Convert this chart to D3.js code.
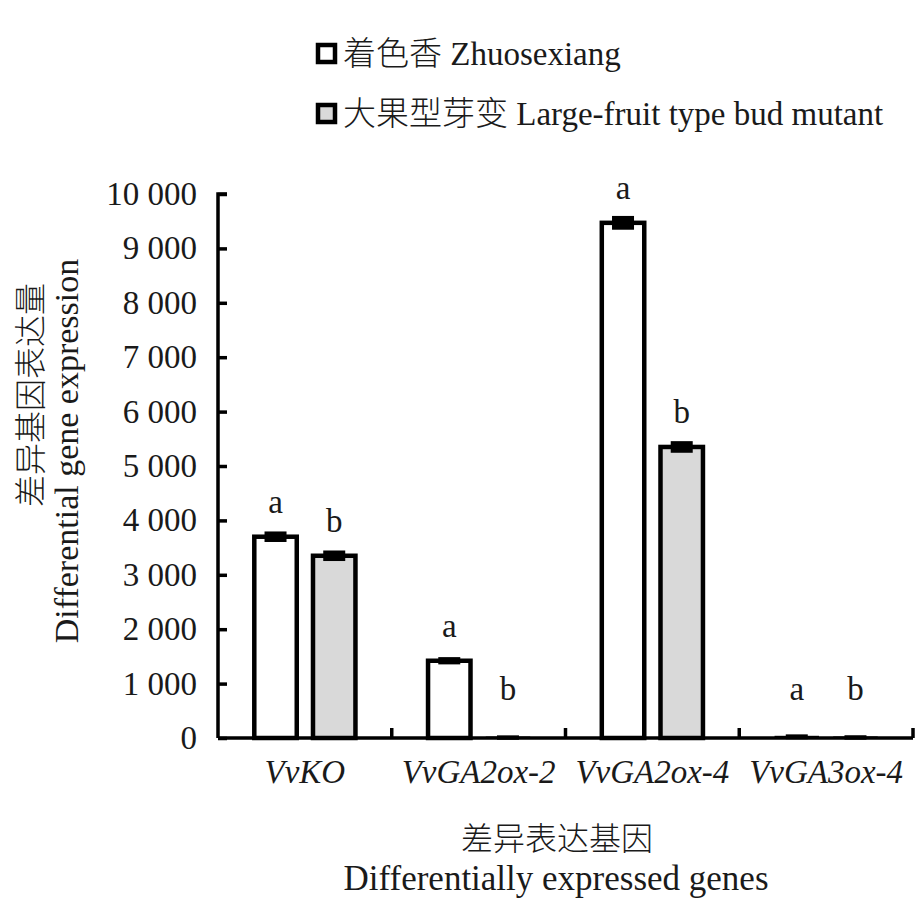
<!DOCTYPE html>
<html>
<head>
<meta charset="utf-8">
<script src="https://cdn.jsdelivr.net/npm/d3@7"></script>
<style>
  html, body { margin: 0; padding: 0; background: #fff; }
  svg text { fill: #1a1a1a; }
  .serif { font-family: "Liberation Serif", "Times New Roman", "DejaVu Serif", serif; }
  .cjk { font-family: "Noto Sans CJK SC", sans-serif; font-weight: 300; }
</style>
</head>
<body>
<div id="chart"></div>
<script>
// ─────────────────────────────────────────────
// Differential gene expression — grouped bars with error caps
// ─────────────────────────────────────────────

const genes   = ["VvKO", "VvGA2ox-2", "VvGA2ox-4", "VvGA3ox-4"];
const series  = ["着色香 Zhuosexiang", "大果型芽变 Large-fruit type bud mutant"];
const zhuo    = [3700, 1420, 9470, 22];
const large   = [3350, 8, 5350, 10];
const zhuoErr = [60, 30, 90, 8];
const largeErr = [60, 4, 70, 4];
const zhuoSig = ["a", "a", "a", "a"];
const largeSig = ["b", "b", "b", "b"];
const yTicks  = [0, 1000, 2000, 3000, 4000, 5000, 6000, 7000, 8000, 9000, 10000];

const W = 922, H = 903;
const M = { left: 218, right: 9, top: 194, bottom: 165 };
const FILLS = ["#ffffff", "#d9d9d9"];
const FS = 33;
const SW = 4.5;

const svg = d3.select("#chart").append("svg")
  .attr("width", W).attr("height", H)
  .attr("viewBox", `0 0 ${W} ${H}`);

const x = d3.scaleBand()
  .domain(genes)
  .range([M.left, W - M.right])
  .paddingInner(0).paddingOuter(0);

const xs = d3.scaleBand()
  .domain([0, 1])
  .range([0, x.bandwidth()])
  .paddingInner(0.2).paddingOuter(0.58);

const y = d3.scaleLinear()
  .domain([0, 10000])
  .range([H - M.bottom, M.top]);

const fmt = (v) => d3.format(",")(v).replace(/,/g, " ");

// bars
const rows = genes.flatMap((g, i) => [
  { g, s: 0, v: zhuo[i], e: zhuoErr[i], sig: zhuoSig[i] },
  { g, s: 1, v: large[i], e: largeErr[i], sig: largeSig[i] }
]);

const gBars = svg.append("g");
gBars.selectAll("rect")
  .data(rows)
  .join("rect")
  .attr("x", (d) => x(d.g) + xs(d.s) + SW / 2)
  .attr("width", xs.bandwidth() - SW)
  .attr("y", (d) => y(d.v))
  .attr("height", (d) => y(0) - y(d.v))
  .attr("fill", (d) => FILLS[d.s])
  .attr("stroke", "#000")
  .attr("stroke-width", (d) => (y(0) - y(d.v) < 3 ? 2 : SW));

// error caps
gBars.selectAll("rect.err")
  .data(rows)
  .join("rect")
  .attr("class", "err")
  .attr("x", (d) => x(d.g) + xs(d.s) + xs.bandwidth() / 2 - 11)
  .attr("width", 22)
  .attr("y", (d) => y(d.v + d.e) - 2)
  .attr("height", (d) => Math.max(4, y(d.v - d.e) - y(d.v + d.e) + 4))
  .attr("fill", "#000");

// significance letters
svg.append("g").selectAll("text")
  .data(rows)
  .join("text")
  .attr("class", "serif")
  .attr("x", (d) => x(d.g) + xs(d.s) + xs.bandwidth() / 2)
  .attr("y", (d) => y(Math.max(d.v, 250)) - 24)
  .attr("text-anchor", "middle")
  .attr("font-size", FS)
  .text((d) => d.sig);

// y axis
const yAxis = svg.append("g")
  .attr("transform", `translate(${M.left},0)`)
  .call(d3.axisRight(y).tickValues(yTicks).tickSize(9).tickFormat(""));
yAxis.select(".domain").attr("d", `M9,${y(10000)}H0V${y(0)}`);
yAxis.selectAll("path, line").attr("stroke", "#000").attr("stroke-width", 3.5);

svg.append("g").selectAll("text")
  .data(yTicks)
  .join("text")
  .attr("class", "serif")
  .attr("x", M.left - 21)
  .attr("y", (d) => y(d) + 11)
  .attr("text-anchor", "end")
  .attr("font-size", FS)
  .text(fmt);

// x axis
const xAxis = svg.append("g")
  .attr("transform", `translate(0,${y(0)})`);
xAxis.append("line")
  .attr("x1", M.left).attr("x2", W - M.right)
  .attr("stroke", "#000").attr("stroke-width", 3.5);
xAxis.selectAll("line.tick")
  .data(genes)
  .join("line")
  .attr("class", "tick")
  .attr("x1", (d) => x(d) + x.bandwidth()).attr("x2", (d) => x(d) + x.bandwidth())
  .attr("y1", 0).attr("y2", -10)
  .attr("stroke", "#000").attr("stroke-width", 3.5);
xAxis.selectAll("text")
  .data(genes)
  .join("text")
  .attr("class", "serif")
  .attr("x", (d) => x(d) + x.bandwidth() / 2)
  .attr("y", 45)
  .attr("text-anchor", "middle")
  .attr("font-size", FS)
  .attr("font-style", "italic")
  .text((d) => d);

// axis titles
svg.append("text")
  .attr("class", "cjk")
  .attr("transform", "translate(42,395) rotate(-90)")
  .attr("text-anchor", "middle")
  .attr("font-size", 32)
  .attr("fill", "#333")
  .text("差异基因表达量");
svg.append("text")
  .attr("class", "serif")
  .attr("transform", "translate(78,451) rotate(-90)")
  .attr("text-anchor", "middle")
  .attr("font-size", 34)
  .text("Differential gene expression");

svg.append("text")
  .attr("class", "cjk")
  .attr("x", 557).attr("y", 850)
  .attr("text-anchor", "middle")
  .attr("font-size", 32)
  .text("差异表达基因");
svg.append("text")
  .attr("class", "serif")
  .attr("x", 556).attr("y", 890)
  .attr("text-anchor", "middle")
  .attr("font-size", 35)
  .text("Differentially expressed genes");

// legend
const legend = svg.append("g").attr("transform", "translate(316,43)");
const li = legend.selectAll("g")
  .data(series)
  .join("g")
  .attr("transform", (d, i) => `translate(0,${i * 60})`);
li.append("rect")
  .attr("x", 2).attr("y", 2).attr("width", 17).attr("height", 17)
  .attr("fill", (d, i) => FILLS[i])
  .attr("stroke", "#000").attr("stroke-width", SW);
li.append("text")
  .attr("x", 27).attr("y", 22)
  .attr("font-size", FS)
  .each(function (d) {
    const parts = d.split(" ");
    const t = d3.select(this);
    t.append("tspan").attr("class", "cjk").text(parts[0]);
    t.append("tspan").attr("class", "serif").text(" " + parts.slice(1).join(" "));
  });
</script>
</body>
</html>
